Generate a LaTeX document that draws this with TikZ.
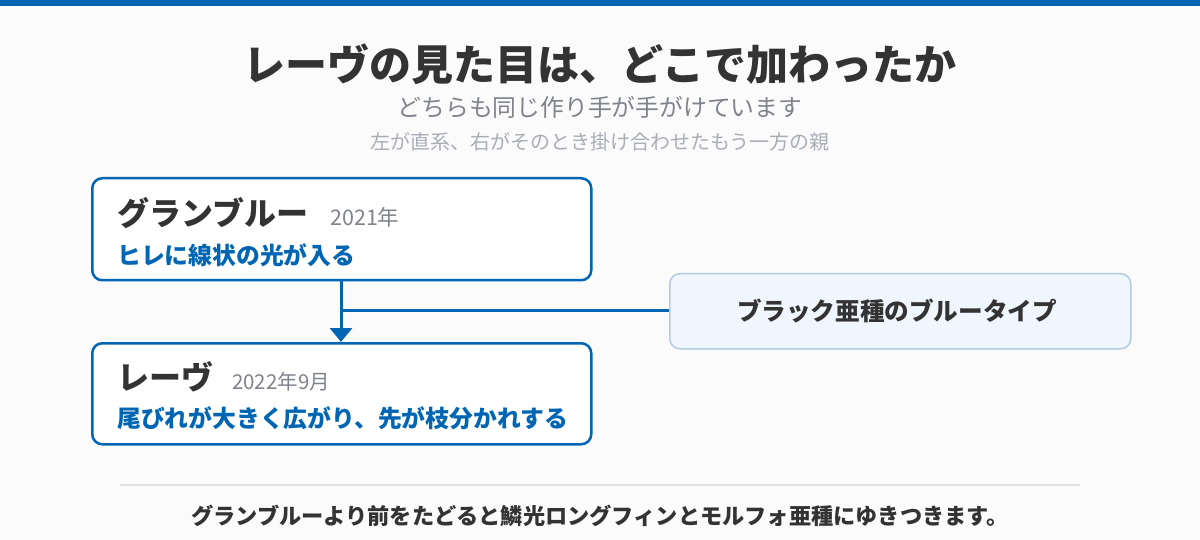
\documentclass[tikz,border=0pt]{standalone}
\usepackage{fontspec}
\setmainfont{Noto Sans CJK JP}
\newfontfamily\jp{Noto Sans CJK JP}
\usetikzlibrary{arrows.meta}
\definecolor{mainblue}{HTML}{0066B3}
\definecolor{darktxt}{HTML}{333333}
\definecolor{graytxt}{HTML}{7F838A}
\definecolor{lightgray}{HTML}{A9ADB5}
\definecolor{bgcol}{HTML}{FBFBFB}
\definecolor{sidefill}{HTML}{EFF6FD}
\definecolor{sideedge}{HTML}{B5CBE0}
\definecolor{seprule}{HTML}{DDE2E7}
\tikzset{
  fs/.style={font=\jp\fontsize{#1}{#1}\selectfont},
  mainbox/.style={draw=mainblue, line width=2.5pt, fill=white, rounded corners=10pt},
  sidebox/.style={draw=sideedge, line width=1.5pt, fill=sidefill, rounded corners=10pt},
  lbl/.style={inner sep=0pt, anchor=west},
  conn/.style={draw=mainblue, line width=3pt},
}
\begin{document}
\begin{tikzpicture}[x=1pt,y=-1pt]
\useasboundingbox (0,0) rectangle (1200,540);
\fill[bgcol] (0,0) rectangle (1200,540);
\fill[mainblue] (0,0) rectangle (1200,6);
% titles
\node[inner sep=0pt, fs=42, text=darktxt] (title) at (600,64) {\bfseries レーヴの見た目は、どこで加わったか};
\node[inner sep=0pt, fs=23.8, text=graytxt] (sub1) at (600,107) {どちらも同じ作り手が手がけています};
\node[inner sep=0pt, fs=20, text=lightgray] (sub2) at (600,142) {左が直系、右がそのとき掛け合わせたもう一方の親};
% boxes
\node[mainbox, minimum width=499pt, minimum height=102pt, anchor=north west] (b1) at (91,177) {};
\node[mainbox, minimum width=499pt, minimum height=101pt, anchor=north west] (b2) at (91,342) {};
\node[sidebox, minimum width=461pt, minimum height=75pt, anchor=north west] (b3) at (669,273) {};
% box texts
\node[lbl, fs=32, text=darktxt] (t1) at (117,213) {\bfseries グランブルー};
\node[lbl, fs=21.5, text=graytxt] (d1) at (330,217) {2021年};
\node[lbl, fs=23.8, text=mainblue] (s1) at (117,255) {\bfseries ヒレに線状の光が入る};
\node[lbl, fs=32, text=darktxt] (t2) at (117,377) {\bfseries レーヴ};
\node[lbl, fs=20.5, text=graytxt] (d2) at (232,382) {2022年9月};
\node[lbl, fs=23.8, text=mainblue] (s2) at (117,418) {\bfseries 尾びれが大きく広がり、先が枝分かれする};
\node[inner sep=0pt, fs=24.6, text=darktxt] (t3) at (897,311) {\bfseries ブラック亜種のブルータイプ};
% connectors
\coordinate (top) at (341,279);
\coordinate (bot) at (341,342);
\coordinate (join) at (341,310);
\draw[conn, -{Triangle[width=22pt,length=14pt]}] (b1.south -| top) -- (b2.north -| bot);
\draw[conn] (join) -- (join -| b3.west);
% footer
\coordinate (sl) at (120,485);
\coordinate (sr) at (1080,485);
\draw[seprule, line width=2pt] (sl) -- (sr);
\node[inner sep=0pt, fs=22.2, text=darktxt] (foot) at (600,516) {\bfseries グランブルーより前をたどると鱗光ロングフィンとモルフォ亜種にゆきつきます。};
\end{tikzpicture}
\end{document}
